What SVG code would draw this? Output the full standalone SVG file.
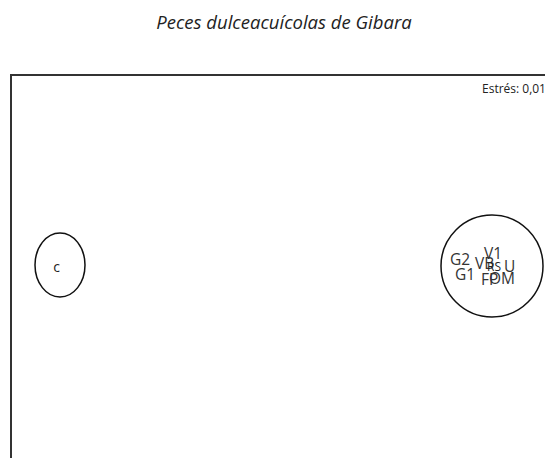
<svg xmlns="http://www.w3.org/2000/svg" width="545" height="458" viewBox="0 0 545 458">
<style>
.t{font-family:"Open Sans","Liberation Sans",sans-serif;fill:#222}
.lb{font-size:15.5px;fill:#333}
.grp{fill:none;stroke:#111;stroke-width:1.5}
</style>
<rect width="545" height="458" fill="#fff"/>
<text class="t" x="284" y="29" font-size="18.5" font-style="italic" text-anchor="middle" fill="#111">Peces dulceacuícolas de Gibara</text>
<g id="frame">
<path d="M11 470 V75 H560" fill="none" stroke="#333" stroke-width="2"/>
<text class="t" x="482" y="93" font-size="12">Estrés: 0,01</text>
</g>
<g id="groupC">
<ellipse class="grp" cx="60" cy="265" rx="25" ry="32"/>
<text class="t" x="56.5" y="272" font-size="14" text-anchor="middle">c</text>
</g>
<g id="groupMain">
<circle class="grp" cx="492" cy="266" r="51"/>
<text class="t lb" x="450" y="265">G2</text>
<text class="t lb" x="455" y="280">G1</text>
<text class="t lb" x="475" y="269">VB</text>
<text class="t lb" x="484" y="259">V1</text>
<text class="t" x="487" y="271" font-size="12" fill="#333">RS</text>
<text class="t lb" x="504" y="272">U</text>
<text class="t lb" x="481" y="285">FP</text>
<text class="t lb" x="489" y="284">OM</text>
</g>
</svg>
